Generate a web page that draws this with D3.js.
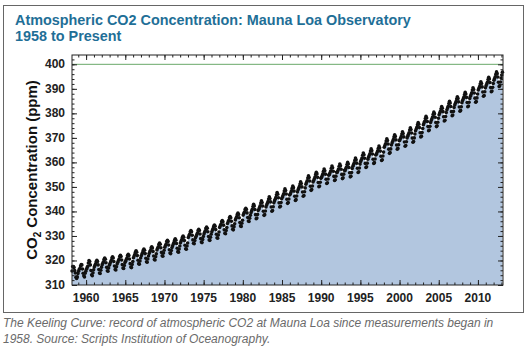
<!DOCTYPE html>
<html>
<head>
<meta charset="utf-8">
<script src="https://cdn.jsdelivr.net/npm/d3@7"></script>
<style>
  body { margin: 0; background: #fff; }
  svg { display: block; font-family: "Liberation Sans", Arial, sans-serif; }
</style>
</head>
<body>
<svg id="chart"></svg>
<script>
// monthly CO2 (ppm) per year, Jan..Dec
let years = [1958, 1959, 1960, 1961, 1962, 1963, 1964, 1965, 1966, 1967, 1968, 1969,
  1970, 1971, 1972, 1973, 1974, 1975, 1976, 1977, 1978, 1979, 1980, 1981, 1982, 1983,
  1984, 1985, 1986, 1987, 1988, 1989, 1990, 1991, 1992, 1993, 1994, 1995, 1996, 1997,
  1998, 1999, 2000, 2001, 2002, 2003, 2004, 2005, 2006, 2007, 2008, 2009, 2010, 2011,
  2012, 2013]

let monthly = [
  [null, null, 315.7, 317.5, 317.5, 317.1, 315.9, 314.9, 313.2, 312.7, 313.3, 314.7],
  [315.6, 316.4, 316.7, 317.7, 318.3, 318.2, 316.5, 314.8, 313.8, 313.3, 314.8, 315.6],
  [316.4, 317.0, 317.6, 319.0, 320.0, 319.6, 318.2, 315.9, 314.2, 313.8, 315.0, 316.2],
  [317.3, 318.0, 318.6, 319.6, 320.1, 319.6, 318.2, 316.3, 314.9, 314.7, 316.0, 317.2],
  [318.2, 318.9, 319.5, 320.5, 321.0, 320.5, 319.1, 317.2, 315.8, 315.6, 316.9, 318.1],
  [318.7, 319.4, 320.0, 321.0, 321.5, 321.0, 319.6, 317.7, 316.3, 316.1, 317.4, 318.6],
  [319.3, 320.0, 320.6, 321.6, 322.1, 321.6, 320.2, 318.3, 316.9, 316.7, 318.0, 319.2],
  [319.7, 320.4, 321.0, 322.0, 322.5, 322.0, 320.6, 318.7, 317.3, 317.1, 318.4, 319.6],
  [321.1, 321.8, 322.4, 323.4, 323.9, 323.4, 322.0, 320.1, 318.7, 318.5, 319.8, 321.0],
  [321.9, 322.6, 323.2, 324.2, 324.7, 324.2, 322.8, 320.9, 319.5, 319.3, 320.6, 321.8],
  [322.8, 323.5, 324.1, 325.1, 325.6, 325.1, 323.7, 321.8, 320.4, 320.2, 321.5, 322.7],
  [324.3, 325.0, 325.6, 326.6, 327.1, 326.6, 325.2, 323.3, 321.9, 321.7, 323.0, 324.2],
  [325.4, 326.1, 326.7, 327.7, 328.2, 327.7, 326.3, 324.4, 323.0, 322.8, 324.1, 325.3],
  [326.0, 326.7, 327.3, 328.3, 328.8, 328.3, 326.9, 325.0, 323.6, 323.4, 324.7, 325.9],
  [327.2, 327.9, 328.5, 329.5, 330.0, 329.5, 328.1, 326.2, 324.8, 324.6, 325.9, 327.1],
  [329.4, 330.1, 330.7, 331.7, 332.2, 331.7, 330.3, 328.4, 327.0, 326.8, 328.1, 329.3],
  [329.9, 330.6, 331.2, 332.2, 332.7, 332.2, 330.8, 328.9, 327.5, 327.3, 328.6, 329.8],
  [330.8, 331.5, 332.1, 333.1, 333.6, 333.1, 331.7, 329.8, 328.4, 328.2, 329.5, 330.7],
  [331.7, 332.4, 333.0, 334.0, 334.5, 334.0, 332.6, 330.7, 329.3, 329.1, 330.4, 331.6],
  [333.5, 334.2, 334.8, 335.8, 336.3, 335.8, 334.4, 332.5, 331.1, 330.9, 332.2, 333.4],
  [335.1, 335.8, 336.4, 337.4, 337.9, 337.4, 336.0, 334.1, 332.7, 332.5, 333.8, 335.0],
  [336.5, 337.2, 337.8, 338.8, 339.3, 338.8, 337.4, 335.5, 334.1, 333.9, 335.2, 336.4],
  [338.5, 339.2, 339.8, 340.8, 341.3, 340.8, 339.4, 337.5, 336.1, 335.9, 337.2, 338.4],
  [339.5, 340.2, 340.9, 342.0, 342.9, 342.2, 340.8, 338.7, 337.0, 337.3, 338.8, 340.4],
  [340.9, 341.6, 342.3, 343.4, 344.3, 343.6, 342.2, 340.1, 338.4, 338.7, 340.2, 341.8],
  [342.6, 343.3, 344.0, 345.1, 346.0, 345.3, 343.9, 341.8, 340.1, 340.4, 341.9, 343.5],
  [344.3, 345.0, 345.7, 346.8, 347.7, 347.0, 345.6, 343.5, 341.8, 342.1, 343.6, 345.2],
  [345.8, 346.5, 347.2, 348.3, 349.2, 348.5, 347.1, 345.0, 343.3, 343.6, 345.1, 346.7],
  [347.0, 347.7, 348.4, 349.5, 350.4, 349.7, 348.3, 346.2, 344.5, 344.8, 346.3, 347.9],
  [348.7, 349.4, 350.1, 351.2, 352.1, 351.4, 350.0, 347.9, 346.2, 346.5, 348.0, 349.6],
  [351.1, 351.8, 352.5, 353.6, 354.5, 353.8, 352.4, 350.3, 348.6, 348.9, 350.4, 352.0],
  [352.6, 353.3, 354.0, 355.1, 356.0, 355.3, 353.9, 351.8, 350.1, 350.4, 351.9, 353.5],
  [353.9, 354.6, 355.3, 356.4, 357.3, 356.6, 355.2, 353.1, 351.4, 351.7, 353.2, 354.8],
  [355.1, 355.8, 356.5, 357.6, 358.5, 357.8, 356.4, 354.3, 352.6, 352.9, 354.4, 356.0],
  [355.9, 356.6, 357.3, 358.4, 359.3, 358.6, 357.2, 355.1, 353.4, 353.7, 355.2, 356.8],
  [356.6, 357.3, 358.0, 359.1, 360.0, 359.3, 357.9, 355.8, 354.1, 354.4, 355.9, 357.5],
  [358.4, 359.1, 359.8, 360.9, 361.8, 361.1, 359.7, 357.6, 355.9, 356.2, 357.7, 359.3],
  [360.4, 361.1, 361.8, 362.9, 363.8, 363.1, 361.7, 359.6, 357.9, 358.2, 359.7, 361.3],
  [362.1, 362.8, 363.5, 364.6, 365.5, 364.8, 363.4, 361.3, 359.6, 359.9, 361.4, 363.0],
  [363.3, 364.0, 364.7, 365.8, 366.7, 366.0, 364.6, 362.5, 360.8, 361.1, 362.6, 364.2],
  [366.2, 366.9, 367.6, 368.7, 369.6, 368.9, 367.5, 365.4, 363.7, 364.0, 365.5, 367.1],
  [367.9, 368.6, 369.3, 370.4, 371.3, 370.6, 369.2, 367.1, 365.4, 365.7, 367.2, 368.8],
  [369.1, 369.8, 370.5, 371.6, 372.5, 371.8, 370.4, 368.3, 366.6, 366.9, 368.4, 370.0],
  [370.7, 371.4, 372.1, 373.2, 374.1, 373.4, 372.0, 369.9, 368.2, 368.5, 370.0, 371.6],
  [372.9, 373.6, 374.3, 375.4, 376.3, 375.6, 374.2, 372.1, 370.4, 370.7, 372.2, 373.8],
  [375.4, 376.1, 376.8, 377.9, 378.8, 378.1, 376.7, 374.6, 372.9, 373.2, 374.7, 376.3],
  [377.1, 377.8, 378.5, 379.6, 380.5, 379.8, 378.4, 376.3, 374.6, 374.9, 376.4, 378.0],
  [379.4, 380.1, 380.8, 381.9, 382.8, 382.1, 380.7, 378.6, 376.9, 377.2, 378.7, 380.3],
  [381.5, 382.2, 382.9, 384.0, 384.9, 384.2, 382.8, 380.7, 379.0, 379.3, 380.8, 382.4],
  [383.4, 384.1, 384.8, 385.9, 386.8, 386.1, 384.7, 382.6, 380.9, 381.2, 382.7, 384.3],
  [385.2, 385.9, 386.6, 387.7, 388.6, 387.9, 386.5, 384.4, 382.7, 383.0, 384.5, 386.1],
  [387.0, 387.7, 388.4, 389.5, 390.4, 389.7, 388.3, 386.2, 384.5, 384.8, 386.3, 387.9],
  [389.5, 390.2, 390.9, 392.0, 392.9, 392.2, 390.8, 388.7, 387.0, 387.3, 388.8, 390.4],
  [391.3, 392.0, 392.7, 393.8, 394.7, 394.0, 392.6, 390.5, 388.8, 389.1, 390.6, 392.2],
  [393.5, 394.2, 394.9, 396.0, 396.9, 396.2, 394.8, 392.7, 391.0, 391.3, 392.8, 394.4],
  [395.6, 396.8, null, null, null, null, null, null, null, null, null, null]
]

let xTicks = [1960, 1965, 1970, 1975, 1980, 1985, 1990, 1995, 2000, 2005, 2010]
let yTicks = [310, 320, 330, 340, 350, 360, 370, 380, 390, 400]
let refLevel = 400

let titleLines = ["Atmospheric CO2 Concentration: Mauna Loa Observatory", "1958 to Present"]
let captionLines = [
  "The Keeling Curve: record of atmospheric CO2 at Mauna Loa since measurements began in",
  "1958. Source: Scripts Institution of Oceanography."
]

let width = 531
let height = 350
let plot = { left: 72, right: 503, top: 55, bottom: 285 }

let svg = d3.select("#chart").attr("width", width).attr("height", height)

// flatten to points at mid-month
let values = []
years.forEach((y, i) => {
  monthly[i].forEach((v, m) => {
    if (v != null) values.push({ t: y + (m + 0.5) / 12, v: v })
  })
})

let xScale = d3.scaleLinear().domain([1958.2, 2013.2]).range([plot.left, plot.right])
let yScale = d3.scaleLinear().domain([310, 403.8]).range([plot.bottom, plot.top])

// outer frame
svg.append("rect")
  .attr("x", 3.5).attr("y", 5.5)
  .attr("width", 520).attr("height", 307)
  .attr("fill", "#fff").attr("stroke", "#666").attr("stroke-width", 1)

// title
svg.append("text")
  .attr("fill", "#1f6f97")
  .style("font-size", "14.4px").style("font-weight", "bold")
  .selectAll("tspan").data(titleLines).enter().append("tspan")
  .attr("x", 15).attr("y", (d, i) => 25 + i * 15.5)
  .text(d => d)

// area under the curve
let area = d3.area()
  .x(d => xScale(d.t))
  .y0(yScale(310))
  .y1(d => yScale(d.v))

svg.append("path")
  .datum(values)
  .attr("d", area)
  .attr("fill", "#b2c6df")

// 400 ppm line
svg.append("line")
  .attr("x1", plot.left).attr("x2", plot.right)
  .attr("y1", yScale(refLevel)).attr("y2", yScale(refLevel))
  .attr("stroke", "#6aa96a").attr("stroke-width", 1)

// data points
svg.append("g").selectAll("circle")
  .data(values).enter().append("circle")
  .attr("cx", d => xScale(d.t))
  .attr("cy", d => yScale(d.v))
  .attr("r", 1.8)
  .attr("fill", "#111")

// axes: ticks pointing inward on all four sides
let minorX = d3.range(1959, 2014, 1)
let minorY = d3.range(310, 404, 2)

let makeAxis = (axisFn, scale, ticks, size, tr) => {
  let g = svg.append("g").attr("transform", tr)
    .call(axisFn(scale).tickValues(ticks).tickSize(size).tickFormat("").tickSizeOuter(0))
  g.select(".domain").remove()
  g.selectAll("line").attr("stroke", "#222")
  return g
}

makeAxis(d3.axisTop, xScale, minorX, 2.5, `translate(0,${plot.bottom})`)
makeAxis(d3.axisTop, xScale, xTicks, 5, `translate(0,${plot.bottom})`)
makeAxis(d3.axisBottom, xScale, minorX, 2.5, `translate(0,${plot.top})`)
makeAxis(d3.axisBottom, xScale, xTicks, 5, `translate(0,${plot.top})`)
makeAxis(d3.axisRight, yScale, minorY, 2.5, `translate(${plot.left},0)`)
makeAxis(d3.axisRight, yScale, yTicks, 5, `translate(${plot.left},0)`)
makeAxis(d3.axisLeft, yScale, minorY, 2.5, `translate(${plot.right},0)`)
makeAxis(d3.axisLeft, yScale, yTicks, 5, `translate(${plot.right},0)`)

// plot frame
svg.append("rect")
  .attr("x", plot.left).attr("y", plot.top)
  .attr("width", plot.right - plot.left).attr("height", plot.bottom - plot.top)
  .attr("fill", "none").attr("stroke", "#222").attr("stroke-width", 1)

// tick labels
svg.append("g").selectAll("text")
  .data(xTicks).enter().append("text")
  .attr("x", d => xScale(d)).attr("y", 302)
  .attr("text-anchor", "middle")
  .style("font-size", "12px").style("font-weight", "bold").attr("fill", "#222")
  .text(d => d)

svg.append("g").selectAll("text")
  .data(yTicks).enter().append("text")
  .attr("x", 65).attr("y", d => yScale(d) + 4)
  .attr("text-anchor", "end")
  .style("font-size", "12px").style("font-weight", "bold").attr("fill", "#222")
  .text(d => d)

// y axis title
let yTitle = svg.append("text")
  .attr("transform", `translate(37, ${(plot.top + plot.bottom) / 2}) rotate(-90)`)
  .attr("text-anchor", "middle")
  .style("font-size", "15px").style("font-weight", "bold").attr("fill", "#111")
yTitle.append("tspan").text("CO")
yTitle.append("tspan").attr("dy", 4).style("font-size", "10px").text("2")
yTitle.append("tspan").attr("dy", -4).text(" Concentration (ppm)")

// caption
svg.append("text")
  .attr("fill", "#6a6a6a")
  .style("font-size", "12px").style("font-style", "italic")
  .selectAll("tspan").data(captionLines).enter().append("tspan")
  .attr("x", 3).attr("y", (d, i) => 327 + i * 16)
  .text(d => d)
</script>
</body>
</html>
